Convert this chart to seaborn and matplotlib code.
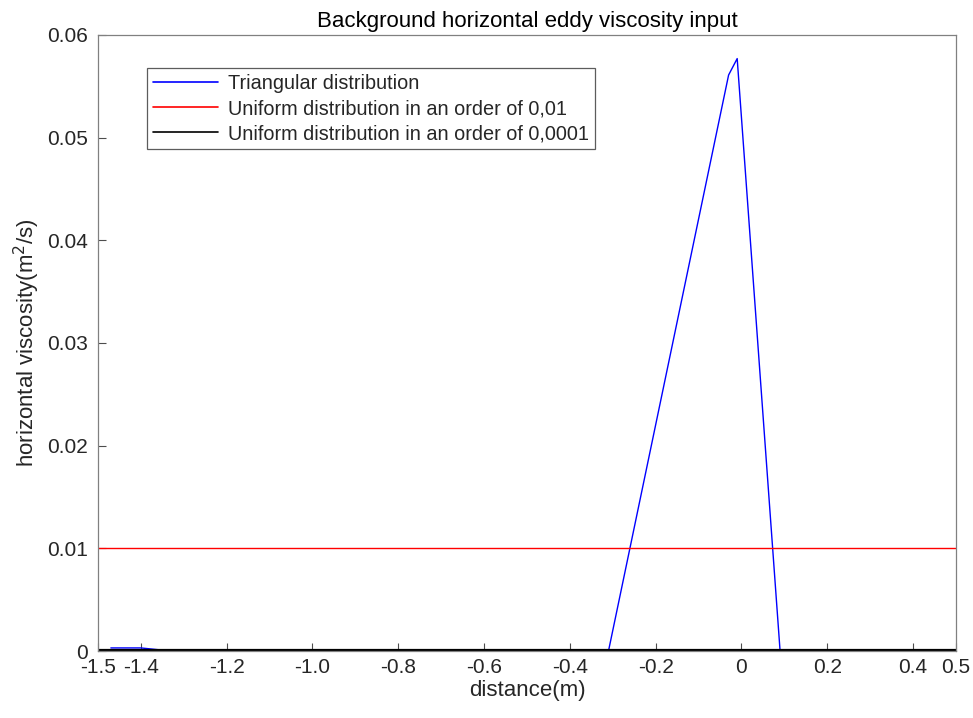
import matplotlib
matplotlib.use("Agg")
import matplotlib.pyplot as plt
import seaborn as sns

sns.set_theme(style="white")
plt.rcParams["font.family"] = ["Liberation Sans", "DejaVu Sans"]

# Triangular background viscosity profile (distance in m, viscosity in m^2/s)
tri_x = [-1.47, -1.40, -1.33, -0.31, -0.03, -0.01, 0.09, 0.50]
tri_y = [0.0003, 0.0003, 0.0, 0.0, 0.0561, 0.0577, 0.0, 0.0]

# Uniform profiles
uni_x = [-1.5, 0.5]
uni_01 = [0.01, 0.01]
uni_0001 = [0.0001, 0.0001]

xticks = [-1.5, -1.4, -1.2, -1.0, -0.8, -0.6, -0.4, -0.2, 0.0, 0.2, 0.4, 0.5]
xticklabels = ["-1.5", "-1.4", "-1.2", "-1.0", "-0.8", "-0.6", "-0.4", "-0.2", "0", "0.2", "0.4", "0.5"]
yticks = [0, 0.01, 0.02, 0.03, 0.04, 0.05, 0.06]
yticklabels = ["0", "0.01", "0.02", "0.03", "0.04", "0.05", "0.06"]

fig = plt.figure(figsize=(9.73, 7.18), dpi=100)
ax = fig.add_axes([0.1007, 0.0933, 0.8818, 0.858])

sns.lineplot(x=tri_x, y=tri_y, ax=ax, color="#0000ff", lw=1.0,
             label="Triangular distribution", sort=False)
sns.lineplot(x=uni_x, y=uni_01, ax=ax, color="#ff0000", lw=1.0,
             label="Uniform distribution in an order of 0,01")
sns.lineplot(x=uni_x, y=uni_0001, ax=ax, color="#000000", lw=1.6,
             label="Uniform distribution in an order of 0,0001")

ax.set_xlim(-1.5, 0.5)
ax.set_ylim(0, 0.06)
ax.set_xticks(xticks)
ax.set_xticklabels(xticklabels)
ax.set_yticks(yticks)
ax.set_yticklabels(yticklabels)
ax.tick_params(direction="in", length=6, width=0.8, color="#4d4d4d",
               labelsize=15, labelcolor="#262626", bottom=True, left=True,
               top=False, right=False, pad=5)
ax.tick_params(axis="y", pad=7)
for s in ax.spines.values():
    s.set_color("#808080")
    s.set_linewidth(0.9)

ax.set_xlabel("distance(m)", fontsize=16, color="#262626", labelpad=2)
ax.set_ylabel("horizontal viscosity(m$^2$/s)", fontsize=16, color="#262626")
ax.set_title("Background horizontal eddy viscosity input", fontsize=16,
             color="#000000", pad=6)

leg = ax.legend(loc="upper left", bbox_to_anchor=(0.057, 0.946), fontsize=14.3,
                frameon=True, fancybox=False, edgecolor="#333333",
                borderaxespad=0, handlelength=3.3, borderpad=0.3,
                labelspacing=0.3, handletextpad=0.5)
leg.get_frame().set_linewidth(0.9)
for line in leg.get_lines():
    line.set_linewidth(1.2)

fig.savefig("out.png", dpi=100, facecolor="white")
